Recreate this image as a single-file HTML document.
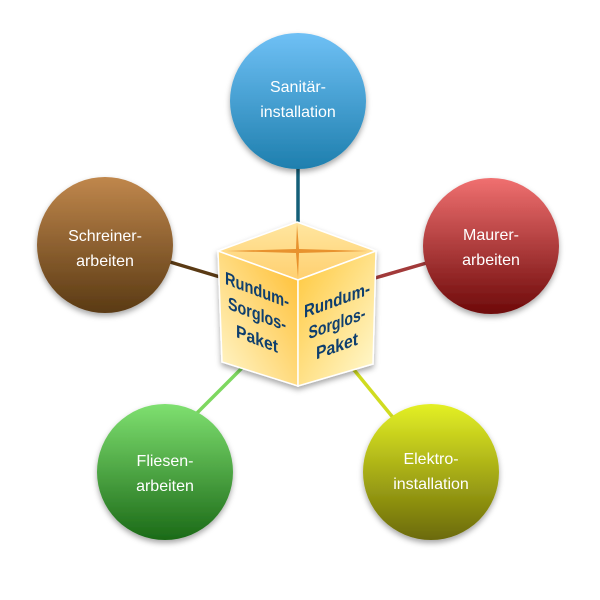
<!DOCTYPE html>
<html><head><meta charset="utf-8"><style>html,body{margin:0;padding:0;background:#fff}svg{display:block}</style></head>
<body>
<svg width="600" height="600" viewBox="0 0 600 600" xmlns="http://www.w3.org/2000/svg" font-family="Liberation Sans, sans-serif">
<defs>
<linearGradient id="gb" x1="0" y1="0" x2="0" y2="1"><stop offset="0" stop-color="#6fc0f5"/><stop offset="1" stop-color="#1e7fae"/></linearGradient>
<linearGradient id="gr" x1="0" y1="0" x2="0" y2="1"><stop offset="0" stop-color="#f07070"/><stop offset="1" stop-color="#6e0a0a"/></linearGradient>
<linearGradient id="gy" x1="0" y1="0" x2="0" y2="1"><stop offset="0" stop-color="#e4f025"/><stop offset="1" stop-color="#6b6a08"/></linearGradient>
<linearGradient id="gg" x1="0" y1="0" x2="0" y2="1"><stop offset="0" stop-color="#7fe070"/><stop offset="1" stop-color="#1b6a17"/></linearGradient>
<linearGradient id="gbr" x1="0" y1="0" x2="0" y2="1"><stop offset="0" stop-color="#c0874c"/><stop offset="1" stop-color="#5a3a14"/></linearGradient>
<linearGradient id="fl" x1="1" y1="0" x2="0" y2="1"><stop offset="0" stop-color="#ffbd2e"/><stop offset="1" stop-color="#fff8d0"/></linearGradient>
<linearGradient id="fr" x1="0" y1="0" x2="1" y2="1"><stop offset="0" stop-color="#ffc73a"/><stop offset="1" stop-color="#fffbd6"/></linearGradient>
<linearGradient id="ft" x1="0" y1="0" x2="0" y2="1"><stop offset="0" stop-color="#ffe6a0"/><stop offset="1" stop-color="#ffd070"/></linearGradient>
<filter id="sh" x="-20%" y="-20%" width="140%" height="150%"><feDropShadow dx="0" dy="3" stdDeviation="3" flood-color="#000" flood-opacity="0.35"/></filter>
</defs>
<g stroke-width="3.5">
<line x1="298" y1="160" x2="298" y2="225" stroke="#145f78"/>
<line x1="375" y1="278" x2="430" y2="262" stroke="#a23a3a"/>
<line x1="350" y1="365" x2="395" y2="420" stroke="#d0dc20"/>
<line x1="245" y1="365" x2="195" y2="415" stroke="#7ed860"/>
<line x1="220" y1="277" x2="170" y2="262" stroke="#5a3a14"/>
</g>
<g filter="url(#sh)">
<circle cx="298" cy="101" r="68" fill="url(#gb)"/>
<circle cx="491" cy="246" r="68" fill="url(#gr)"/>
<circle cx="431" cy="472" r="68" fill="url(#gy)"/>
<circle cx="165" cy="472" r="68" fill="url(#gg)"/>
<circle cx="105" cy="245" r="68" fill="url(#gbr)"/>
</g>
<g fill="#fff" font-size="16" text-anchor="middle">
<text x="298" y="92">Sanitär-</text><text x="298" y="117">installation</text>
<text x="491" y="240">Maurer-</text><text x="491" y="265">arbeiten</text>
<text x="431" y="464">Elektro-</text><text x="431" y="489">installation</text>
<text x="165" y="466">Fliesen-</text><text x="165" y="491">arbeiten</text>
<text x="105" y="241">Schreiner-</text><text x="105" y="266">arbeiten</text>
</g>
<g filter="url(#sh)">
<polygon points="297,222 376,251 298,280 218,251" fill="url(#ft)" stroke="#fff" stroke-width="1.5"/>
<polygon points="218,251 298,280 298,386 222,362" fill="url(#fl)" stroke="#fff" stroke-width="1.5"/>
<polygon points="298,280 376,251 373,364 298,386" fill="url(#fr)" stroke="#fff" stroke-width="1.5"/>
</g>
<path d="M297,224 L299,249 L368,251 L299,253 L298,278 L296,253 L226,251 L296,249 Z" fill="#e07a10" opacity="0.75"/>
<g fill="#0f3f6e" font-weight="bold" font-size="18" text-anchor="middle">
<g transform="matrix(1,0.38,0,1,257,0)">
<text x="0" y="296" textLength="64" lengthAdjust="spacingAndGlyphs">Rundum-</text><text x="0" y="320" textLength="58" lengthAdjust="spacingAndGlyphs">Sorglos-</text><text x="0" y="345" textLength="42" lengthAdjust="spacingAndGlyphs">Paket</text>
</g>
<g transform="matrix(1,-0.36,0,1,337,0)">
<text x="0" y="306" textLength="66" lengthAdjust="spacingAndGlyphs">Rundum-</text><text x="0" y="329" textLength="57" lengthAdjust="spacingAndGlyphs">Sorglos-</text><text x="0" y="352" textLength="42" lengthAdjust="spacingAndGlyphs">Paket</text>
</g>
</g>
</svg>
</body></html>
